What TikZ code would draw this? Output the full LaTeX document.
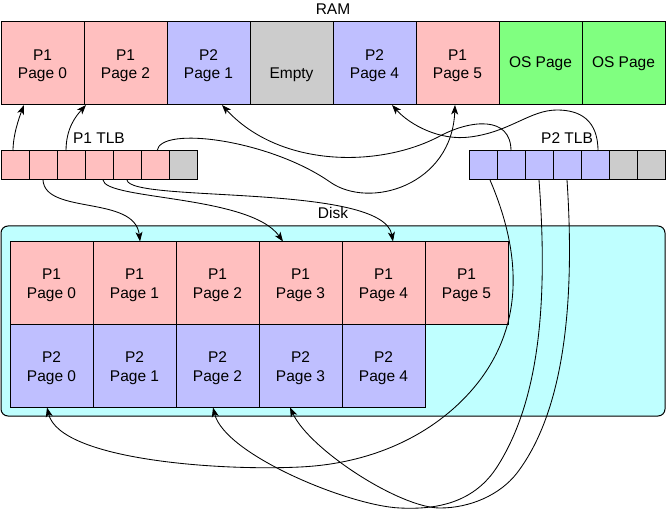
\documentclass[tikz,border=0pt]{standalone}
\usepackage{fontspec}
\setmainfont{Liberation Sans}
\usetikzlibrary{arrows.meta}
\definecolor{pk}{HTML}{FFBFBF}
\definecolor{bl}{HTML}{BFBFFF}
\definecolor{gy}{HTML}{CCCCCC}
\definecolor{gn}{HTML}{80FF80}
\definecolor{cy}{HTML}{BFFFFF}
\newcommand{\cl}[2]{\rule{0pt}{15pt}#1\\#2}
\begin{document}
\begin{tikzpicture}[x=1pt,y=-1pt,
  every node/.style={font=\fontsize{15.5}{18.5}\selectfont, inner sep=0pt, outer sep=0pt},
  big/.style={draw, line width=1pt, minimum width=83pt, minimum height=83pt, align=center},
  tlb/.style={draw, line width=1pt, minimum width=28pt, minimum height=29pt},
  link/.style={line width=0.85pt, -{Stealth[length=9.5pt,width=7pt,inset=2.5pt]}}]
\useasboundingbox (0,0) rectangle (666,510);
% Disk container
\node[draw, line width=1pt, fill=cy, rounded corners=7pt, minimum width=664pt, minimum height=190pt] (disk) at (333,321) {};
\node (disklbl) at (333,213) {Disk};
% Disk pages
\node[big, fill=pk] (da0) at (51.5,283) {\cl{P1}{Page 0}};
\node[big, fill=pk] (da1) at (134.5,283) {\cl{P1}{Page 1}};
\node[big, fill=pk] (da2) at (217.5,283) {\cl{P1}{Page 2}};
\node[big, fill=pk] (da3) at (300.5,283) {\cl{P1}{Page 3}};
\node[big, fill=pk] (da4) at (383.5,283) {\cl{P1}{Page 4}};
\node[big, fill=pk] (da5) at (466.5,283) {\cl{P1}{Page 5}};
\node[big, fill=bl] (db0) at (51.5,366) {\cl{P2}{Page 0}};
\node[big, fill=bl] (db1) at (134.5,366) {\cl{P2}{Page 1}};
\node[big, fill=bl] (db2) at (217.5,366) {\cl{P2}{Page 2}};
\node[big, fill=bl] (db3) at (300.5,366) {\cl{P2}{Page 3}};
\node[big, fill=bl] (db4) at (383.5,366) {\cl{P2}{Page 4}};
% RAM
\node (ramlbl) at (333,9) {RAM};
\node[big, fill=pk] (ram0) at (42.5,63.5) {\cl{P1}{Page 0}};
\node[big, fill=pk] (ram1) at (125.5,63.5) {\cl{P1}{Page 2}};
\node[big, fill=bl] (ram2) at (208.5,63.5) {\cl{P2}{Page 1}};
\node[big, fill=gy] (ram3) at (291.5,63.5) {\cl{}{Empty}};
\node[big, fill=bl] (ram4) at (374.5,63.5) {\cl{P2}{Page 4}};
\node[big, fill=pk] (ram5) at (457.5,63.5) {\cl{P1}{Page 5}};
\node[big, fill=gn] (ram6) at (540.5,63.5) {OS Page};
\node[big, fill=gn] (ram7) at (623.5,63.5) {OS Page};
% TLBs
\node (p1lbl) at (99,138) {P1 TLB};
\node (p2lbl) at (567,138) {P2 TLB};
\foreach \i in {0,...,5} \node[tlb, fill=pk] (pa\i) at ({15+28*\i},165.5) {};
\node[tlb, fill=gy] (pa6) at (183,165.5) {};
\foreach \i in {0,...,4} \node[tlb, fill=bl] (pb\i) at ({483+28*\i},165.5) {};
\node[tlb, fill=gy] (pb5) at (623,165.5) {};
\node[tlb, fill=gy] (pb6) at (651,165.5) {};
% P1 TLB links
\draw[link] ([xshift=-2pt]pa0.north) .. controls (13,135) and (19,118) .. ([xshift=-18.5pt]ram0.south);
\draw[link] ([xshift=-5pt]pa2.north) .. controls (66,128) and (76,116) .. ([xshift=2pt]ram1.south west);
\draw[link] (pa1.south) .. controls (45,215) and (135,195) .. ([xshift=5.5pt]da1.north);
\draw[link] ([xshift=4pt]pa3.south) .. controls (105,200) and (250,195) .. ([xshift=-17.5pt]da3.north);
\draw[link] (pa4.south) .. controls (130,203) and (383,183) .. ([xshift=9.5pt]da4.north);
\draw[link] ([xshift=2pt]pa5.north) .. controls (160,125) and (270,140) .. (330,182) .. controls (370,210) and (452,185) .. ([xshift=-2.5pt]ram5.south);
% P2 TLB links
\draw[link] (pb1.north) .. controls (511,115) and (470,120) .. (440,136) .. controls (380,168) and (280,168) .. ([xshift=13.5pt]ram2.south);
\draw[link] ([xshift=3pt]pb4.north) .. controls (598,120) and (580,110) .. (557,110) .. controls (530,110) and (510,132) .. (470,137) .. controls (440,141) and (410,125) .. ([xshift=17.5pt]ram4.south);
\draw[link] ([xshift=7pt]pb0.south) .. controls (520,250) and (525,320) .. (480,380) .. controls (446,425) and (385,463) .. (300,467) .. controls (220,471) and (60,460) .. ([xshift=-4.5pt]db0.south);
\draw[link] (pb2.south) .. controls (548,300) and (540,400) .. (497,467) .. controls (475,501) and (440,510) .. (400,508) .. controls (350,506) and (225,455) .. ([xshift=-4.5pt]db2.south);
\draw[link] (pb3.south) .. controls (575,300) and (565,410) .. (517,473) .. controls (500,495) and (470,508) .. (440,508) .. controls (400,508) and (310,450) .. ([xshift=-10.5pt]db3.south);
\end{tikzpicture}
\end{document}
